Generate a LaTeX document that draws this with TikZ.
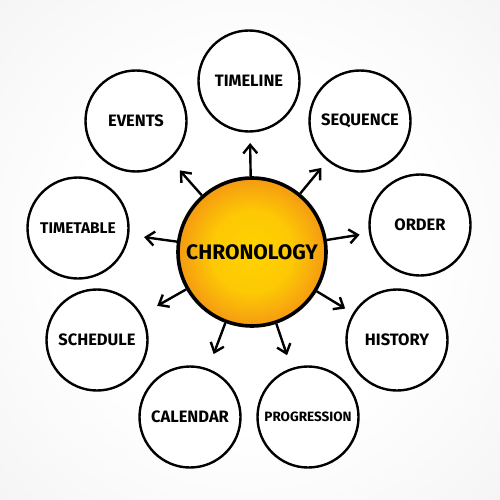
\documentclass[tikz,border=0pt]{standalone}
\usepackage{fontspec}
\setmainfont{Fira Sans}
\usetikzlibrary{arrows.meta,calc}
\definecolor{sunin}{HTML}{FFD300}
\definecolor{sunout}{HTML}{F59A13}
\definecolor{bgedge}{HTML}{E6E6E6}
\pgfdeclareradialshading{sunshade}{\pgfpoint{0bp}{0bp}}{color(0bp)=(sunin); color(14bp)=(sunin!80!sunout); color(25bp)=(sunout); color(50bp)=(sunout)}
\pgfdeclareradialshading{bgshade}{\pgfpoint{0bp}{0bp}}{color(0bp)=(white); color(12bp)=(white); color(30bp)=(bgedge!60!white); color(50bp)=(bgedge)}
\begin{document}
\begin{tikzpicture}[x=1pt,y=-1pt,
  topic/.style={circle,draw=black,line width=2.4pt,fill=white,minimum size=101pt,inner sep=0pt,
    font=\fontsize{16.5}{16.5}\selectfont\bfseries},
  hub/.style={circle,draw=black,line width=3.6pt,shading=sunshade,minimum size=148pt,inner sep=0pt,
    font=\fontsize{21}{21}\selectfont\bfseries},
  arr/.style={line width=2.4pt,-{Straight Barb[length=8.5pt,width=14pt,line width=2.4pt]}}]
\useasboundingbox (0,0) rectangle (500,500);
\shade[shading=bgshade] (-120,-120) rectangle (620,620);
\node[hub] (c) at (252,252) {CHRONOLOGY};
\node[topic] (t1) at (249,81) {TIMELINE};
\node[topic] (t2) at (360,121) {SEQUENCE};
\node[topic] (t3) at (420,225) {ORDER};
\node[topic] (t4) at (397,340) {HISTORY};
\node[topic,font=\fontsize{13.5}{13.5}\selectfont\bfseries] (t5) at (308,417) {PROGRESSION};
\node[topic] (t6) at (190,417) {CALENDAR};
\node[topic] (t7) at (97,340) {SCHEDULE};
\node[topic,font=\fontsize{15.5}{15.5}\selectfont\bfseries] (t8) at (78,228) {TIMETABLE};
\node[topic] (t9) at (136,121) {EVENTS};
\foreach \i in {1,...,9}{
  \coordinate (p\i) at ($(c)!109pt!(t\i)$);
  \draw[arr] (c) -- (p\i);
}
\end{tikzpicture}
\end{document}
